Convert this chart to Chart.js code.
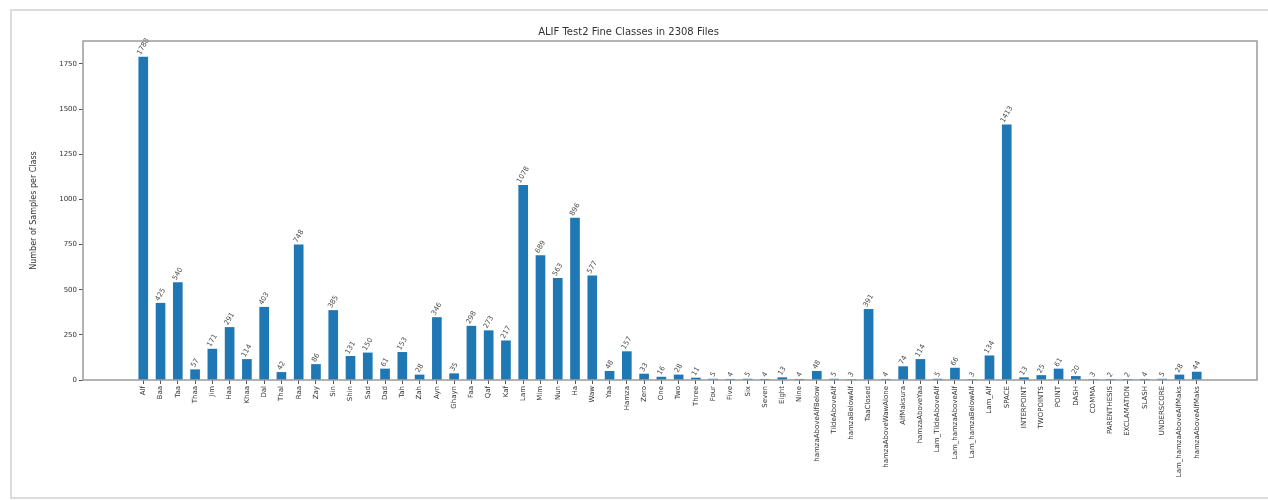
<!DOCTYPE html>
<html>
<head>
<meta charset="utf-8">
<title>ALIF Test2 Fine Classes</title>
<script src="https://cdn.jsdelivr.net/npm/chart.js@4.4.0/dist/chart.umd.min.js"></script>
<style>
  body { margin: 0; background: #fff; }
  .wrap { position: relative; width: 1268px; height: 500px; overflow: hidden; }
  .frame { position: absolute; left: 10px; top: 9px; width: 1262px; height: 486px; border: 2px solid #dcdcdc; }
  canvas { position: absolute; left: 0; top: 0; }
</style>
</head>
<body>
<div class="wrap">
  <div class="frame"></div>
  <canvas id="fineChart" width="1268" height="500"></canvas>
</div>
<script>
// class names (x axis)
const classes = [
  "Alf", "Baa", "Taa", "Thaa", "Jim", "Haa", "Khaa", "Dal", "Thal", "Raa",
  "Zay", "Sin", "Shin", "Sad", "Dad", "Tah", "Zah", "Ayn", "Ghayn", "Faa",
  "Qaf", "Kaf", "Lam", "Mim", "Nun", "Ha", "Waw", "Yaa", "Hamza",
  "Zero", "One", "Two", "Three", "Four", "Five", "Six", "Seven", "Eight", "Nine",
  "hamzaAboveAlfBelow", "TildeAboveAlf", "hamzaBelowAlf", "TaaClosed",
  "hamzaAboveWawAlone", "AlfMaksura", "hamzaAboveYaa", "Lam_TildeAboveAlf",
  "Lam_hamzaAboveAlf", "Lam_hamzaBelowAlf", "Lam_Alf", "SPACE",
  "INTERPOINT", "TWOPOINTS", "POINT", "DASH", "COMMA", "PARENTHESIS",
  "EXCLAMATION", "SLASH", "UNDERSCORE", "Lam_hamzaAboveAlfMaks", "hamzaAboveAlfMaks"
];

// samples per class
const counts = [
  1788, 425, 540, 57, 171, 291, 114, 403, 42, 748,
  86, 385, 131, 150, 61, 153, 28, 346, 35, 298,
  273, 217, 1078, 689, 563, 896, 577, 48, 157,
  33, 16, 28, 11, 5, 4, 5, 4, 13, 4,
  48, 5, 3, 391, 4, 74, 114, 5, 66, 3, 134, 1413,
  13, 25, 61, 20, 3, 2, 2, 4, 5, 28, 44
];

const yTicks = [0, 250, 500, 750, 1000, 1250, 1500, 1750];
const yMax = 1877;

const barColor = "#1f77b4";

//==========================================================================
// count written above every bar, tilted
const valueLabels = {
  id: "valueLabels",
  afterDatasetsDraw(chart) {
    const ctx = chart.ctx;
    const meta = chart.getDatasetMeta(0);
    const a = Math.PI / 3;
    ctx.save();
    ctx.font = "7px 'DejaVu Sans'";
    ctx.fillStyle = "#4a4a4a";
    ctx.textAlign = "center";
    ctx.textBaseline = "middle";
    meta.data.forEach((bar, i) => {
      const txt = String(counts[i]);
      const w = ctx.measureText(txt).width;
      const boxH = w * Math.sin(a) + 7 * Math.cos(a);
      ctx.save();
      ctx.translate(bar.x, bar.y - 1 - boxH / 2);
      ctx.rotate(-a);
      ctx.fillText(txt, 0, 0);
      ctx.restore();
    });
    ctx.restore();
  },
};

// box around the plot
const axesBox = {
  id: "axesBox",
  afterDraw(chart) {
    const { ctx, chartArea: c } = chart;
    ctx.save();
    ctx.strokeStyle = "#9a9a9a";
    ctx.lineWidth = 1.5;
    ctx.strokeRect(c.left, c.top, c.right - c.left, c.bottom - c.top);
    ctx.restore();
  },
};

//==========================================================================
const config = {
  type: "bar",
  data: {
    datasets: [
      {
        label: "samples",
        data: counts.map((v, i) => ({ x: i, y: v })),
        backgroundColor: barColor,
        barThickness: 9,
        borderWidth: 0,
      },
    ],
  },
  options: {
    responsive: false,
    animation: false,
    layout: { padding: { top: 26, right: 11, bottom: 0, left: 0 } },
    scales: {
      x: {
        type: "linear",
        offset: false,
        min: -3.49,
        max: classes.length - 1 + 3.49,
        afterBuildTicks: (s) => {
          s.ticks = classes.map((_, i) => ({ value: i }));
        },
        afterFit: (s) => {
          s.height = 120;
        },
        ticks: {
          autoSkip: false,
          minRotation: 90,
          maxRotation: 90,
          padding: 2,
          color: "#333",
          font: { size: 7, family: "'DejaVu Sans'" },
          callback: (v) => classes[v],
        },
        grid: { offset: false, drawOnChartArea: false, tickLength: 4, color: "#555" },
        border: { display: false },
      },
      y: {
        min: 0,
        max: yMax,
        afterBuildTicks: (s) => {
          s.ticks = yTicks.map((v) => ({ value: v }));
        },
        afterFit: (s) => {
          s.width = 83;
        },
        ticks: {
          padding: 2,
          color: "#333",
          font: { size: 7, family: "'DejaVu Sans'" },
          callback: (v) => String(v),
        },
        grid: { drawOnChartArea: false, tickLength: 4, color: "#555" },
        border: { display: false },
        title: {
          display: true,
          text: "Number of Samples per Class",
          color: "#333",
          font: { size: 8, family: "'DejaVu Sans'" },
          padding: { top: 29, bottom: 0 },
        },
      },
    },
    plugins: {
      legend: { display: false },
      tooltip: { enabled: false },
      title: {
        display: true,
        text: "ALIF Test2 Fine Classes in 2308 Files",
        color: "#333",
        font: { size: 10, weight: "normal", family: "'DejaVu Sans'" },
        padding: { top: 0, bottom: 3 },
      },
    },
  },
  plugins: [valueLabels, axesBox],
};

const fineChart = new Chart(document.getElementById("fineChart"), config);
</script>
</body>
</html>
